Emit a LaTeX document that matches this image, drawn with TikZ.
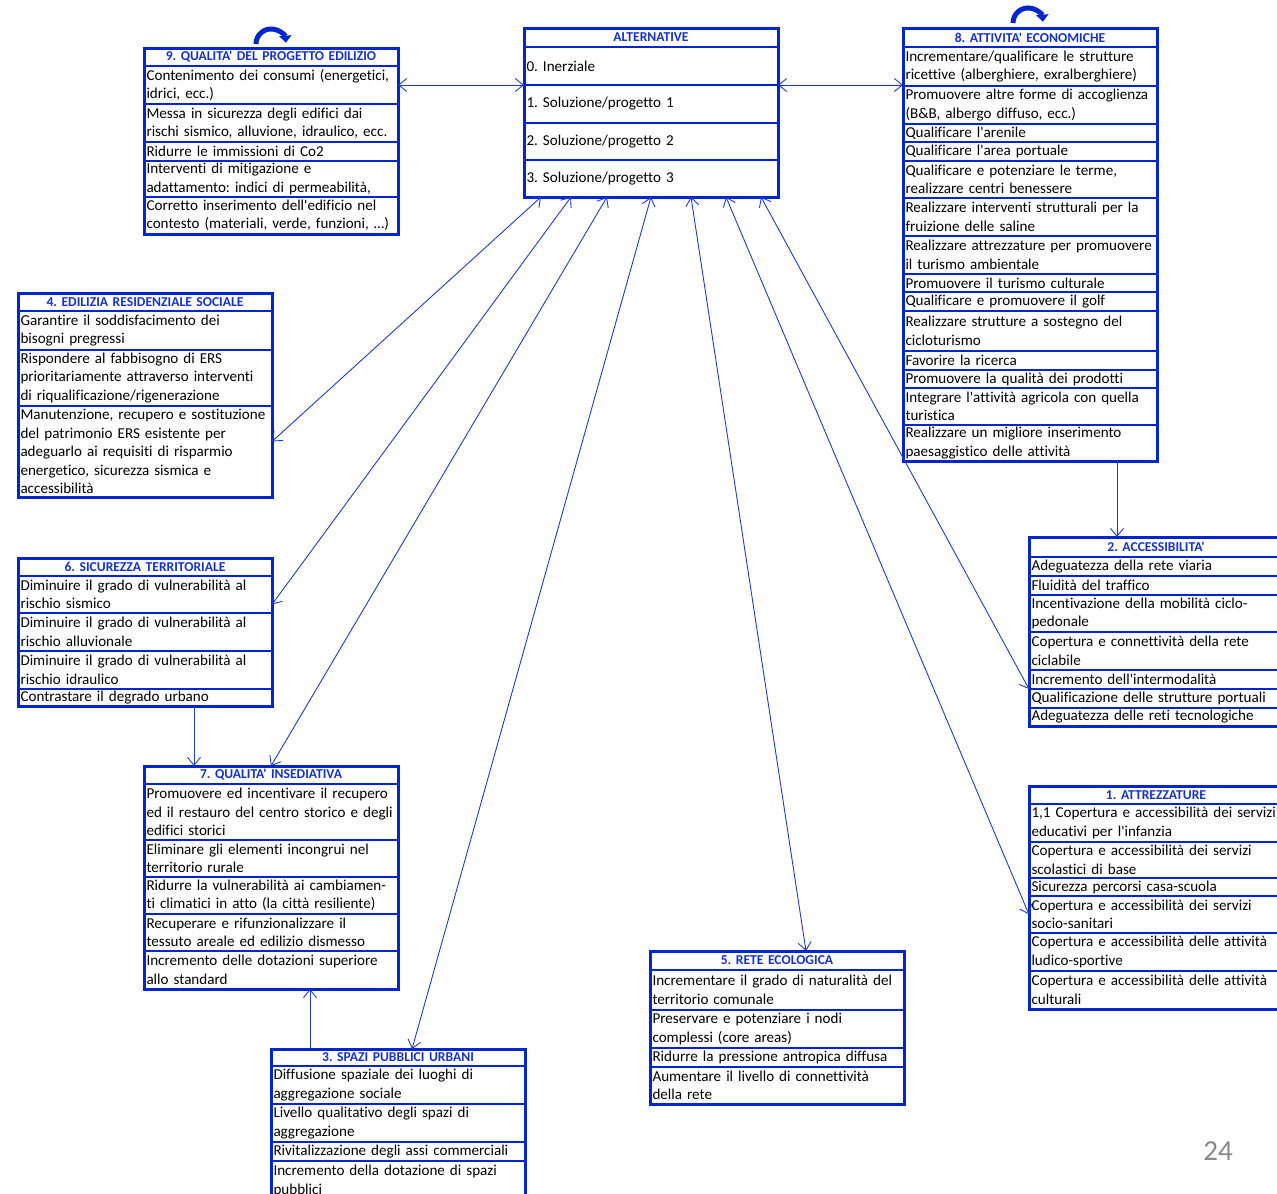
\documentclass[tikz,border=0pt]{standalone}
\usepackage{fontspec}
\setmainfont{Carlito}[Ligatures={TeXOff,NoCommon}]
\usetikzlibrary{arrows.meta}
\definecolor{boxblue}{RGB}{0,38,204}
\definecolor{linkblue}{RGB}{30,60,210}
\definecolor{headblue}{RGB}{20,50,210}
\definecolor{pagegray}{RGB}{137,137,137}
\newcommand{\frm}[4]{\node[framebox, minimum height={(#4-#3)*1pt}] (#1) at (#2,#3) {};}
\newcommand{\hd}[5]{\node[headcell, minimum height={(#4-#3)*1pt}] (#1) at (#2,#3) {#5};}
\newcommand{\rw}[5]{\node[rowcell, minimum height={(#4-#3)*1pt}] (#1) at (#2,#3) {#5};}
\tikzset{
  cell/.style={draw=boxblue, line width=2.6pt, anchor=north west, minimum width=254pt, inner xsep=2.5pt, inner ysep=0pt, outer sep=0pt},
  framebox/.style={cell, line width=3pt},
  headcell/.style={cell, font=\fontsize{13.6}{15}\selectfont\bfseries, text=headblue, align=center, text width=249pt},
  rowcell/.style={cell, font=\fontsize{15.1}{18.5}\selectfont, align=left, text width=249pt},
  link/.style={draw=linkblue, line width=0.9pt, <->},
  feed/.style={draw=linkblue, line width=0.9pt, ->},
  curl/.style={draw=boxblue, line width=5pt, -{Triangle[length=7pt,width=12pt]}},
  pagenum/.style={text=pagegray, font=\fontsize{29}{30}\selectfont},
  >={Straight Barb[length=8pt,width=13pt]}
}
\begin{document}
\frenchspacing
\begin{tikzpicture}[x=1pt, y=-1pt]
\useasboundingbox (0,0) rectangle (1277,1194);
\clip (0,0) rectangle (1277,1194);
% alternative
\frm{alt}{524}{28}{197}
\hd{altt}{524}{28}{47}{ALTERNATIVE}
\rw{alt0}{524}{47}{85}{0. Inerziale}
\rw{alt1}{524}{85}{123}{1. Soluzione/progetto 1}
\rw{alt2}{524}{123}{160}{2. Soluzione/progetto 2}
\rw{alt3}{524}{160}{197}{3. Soluzione/progetto 3}
% 9
\frm{b9}{144}{48}{234}
\hd{b9t}{144}{48}{66}{9. QUALITA' DEL PROGETTO EDILIZIO}
\rw{b9r1}{144}{66}{104}{Contenimento dei consumi (energetici,\\ idrici, ecc.)}
\rw{b9r2}{144}{104}{142}{Messa in sicurezza degli edifici dai\\ rischi sismico, alluvione, idraulico, ecc.}
\rw{b9r3}{144}{142}{161}{Ridurre le immissioni di Co2}
\rw{b9r4}{144}{161}{197}{Interventi di mitigazione e\\ adattamento: indici di permeabilità,}
\rw{b9r5}{144}{197}{234}{Corretto inserimento dell'edificio nel\\ contesto (materiali, verde, funzioni, …)}
% 8
\frm{b8}{903}{28}{461}
\hd{b8t}{903}{28}{47}{8. ATTIVITA' ECONOMICHE}
\rw{b8r1}{903}{47}{86}{Incrementare/qualificare le strutture\\ ricettive (alberghiere, exralberghiere)}
\rw{b8r2}{903}{86}{124}{Promuovere altre forme di accoglienza\\ (B\&B, albergo diffuso, ecc.)}
\rw{b8r3}{903}{124}{142}{Qualificare l'arenile}
\rw{b8r4}{903}{142}{161}{Qualificare l'area portuale}
\rw{b8r5}{903}{161}{198}{Qualificare e potenziare le terme,\\ realizzare centri benessere}
\rw{b8r6}{903}{198}{236}{Realizzare interventi strutturali per la\\ fruizione delle saline}
\rw{b8r7}{903}{236}{274}{Realizzare attrezzature per promuovere\\ il turismo ambientale}
\rw{b8r8}{903}{274}{292}{Promuovere il turismo culturale}
\rw{b8r9}{903}{292}{311}{Qualificare e promuovere il golf}
\rw{b8r10}{903}{311}{351}{Realizzare strutture a sostegno del\\ cicloturismo}
\rw{b8r11}{903}{351}{370}{Favorire la ricerca}
\rw{b8r12}{903}{370}{388}{Promuovere la qualità dei prodotti}
\rw{b8r13}{903}{388}{425}{Integrare l'attività agricola con quella\\ turistica}
\rw{b8r14}{903}{425}{461}{Realizzare un migliore inserimento\\ paesaggistico delle attività}
% 4
\frm{b4}{18}{293}{497}
\hd{b4t}{18}{293}{311}{4. EDILIZIA RESIDENZIALE SOCIALE}
\rw{b4r1}{18}{311}{350}{Garantire il soddisfacimento dei\\ bisogni pregressi}
\rw{b4r2}{18}{350}{406}{Rispondere al fabbisogno di ERS\\ prioritariamente attraverso interventi\\ di riqualificazione/rigenerazione}
\rw{b4r3}{18}{406}{497}{Manutenzione, recupero e sostituzione\\ del patrimonio ERS esistente per\\ adeguarlo ai requisiti di risparmio\\ energetico, sicurezza sismica e\\ accessibilità}
% 6
\frm{b6}{18}{558}{706}
\hd{b6t}{18}{558}{576}{6. SICUREZZA TERRITORIALE}
\rw{b6r1}{18}{576}{613}{Diminuire il grado di vulnerabilità al\\ rischio sismico}
\rw{b6r2}{18}{613}{651}{Diminuire il grado di vulnerabilità al\\ rischio alluvionale}
\rw{b6r3}{18}{651}{689}{Diminuire il grado di vulnerabilità al\\ rischio idraulico}
\rw{b6r4}{18}{689}{706}{Contrastare il degrado urbano}
% 7
\frm{b7}{144}{766}{989}
\hd{b7t}{144}{766}{784}{7. QUALITA' INSEDIATIVA}
\rw{b7r1}{144}{784}{840}{Promuovere ed incentivare il recupero\\ ed il restauro del centro storico e degli\\ edifici storici}
\rw{b7r2}{144}{840}{877}{Eliminare gli elementi incongrui nel\\ territorio rurale}
\rw{b7r3}{144}{877}{914}{Ridurre la vulnerabilità ai cambiamen-\\ ti climatici in atto (la città resiliente)}
\rw{b7r4}{144}{914}{951}{Recuperare e rifunzionalizzare il\\ tessuto areale ed edilizio dismesso}
\rw{b7r5}{144}{951}{989}{Incremento delle dotazioni superiore\\ allo standard}
% 3
\frm{b3}{271}{1049}{1201}
\hd{b3t}{271}{1049}{1066}{3. SPAZI PUBBLICI URBANI}
\rw{b3r1}{271}{1066}{1104}{Diffusione spaziale dei luoghi di\\ aggregazione sociale}
\rw{b3r2}{271}{1104}{1142}{Livello qualitativo degli spazi di\\ aggregazione}
\rw{b3r3}{271}{1142}{1161}{Rivitalizzazione degli assi commerciali}
\rw{b3r4}{271}{1161}{1201}{Incremento della dotazione di spazi\\ pubblici}
% 2
\frm{b2}{1029}{537}{726}
\hd{b2t}{1029}{537}{557}{2. ACCESSIBILITA'}
\rw{b2r1}{1029}{557}{576}{Adeguatezza della rete viaria}
\rw{b2r2}{1029}{576}{595}{Fluidità del traffico}
\rw{b2r3}{1029}{595}{632}{Incentivazione della mobilità ciclo-\\ pedonale}
\rw{b2r4}{1029}{632}{670}{Copertura e connettività della rete\\ ciclabile}
\rw{b2r5}{1029}{670}{689}{Incremento dell'intermodalità}
\rw{b2r6}{1029}{689}{708}{Qualificazione delle strutture portuali}
\rw{b2r7}{1029}{708}{726}{Adeguatezza delle reti tecnologiche}
% 1
\frm{b1}{1029}{786}{1009}
\hd{b1t}{1029}{786}{804}{1. ATTREZZATURE}
\rw{b1r1}{1029}{804}{842}{1,1 Copertura e accessibilità dei servizi\\ educativi per l'infanzia}
\rw{b1r2}{1029}{842}{878}{Copertura e accessibilità dei servizi\\ scolastici di base}
\rw{b1r3}{1029}{878}{896}{Sicurezza percorsi casa-scuola}
\rw{b1r4}{1029}{896}{933}{Copertura e accessibilità dei servizi\\ socio-sanitari}
\rw{b1r5}{1029}{933}{971}{Copertura e accessibilità delle attività\\ ludico-sportive}
\rw{b1r6}{1029}{971}{1009}{Copertura e accessibilità delle attività\\ culturali}
% 5
\frm{b5}{650}{951}{1104}
\hd{b5t}{650}{951}{970}{5. RETE ECOLOGICA}
\rw{b5r1}{650}{970}{1010}{Incrementare il grado di naturalità del\\ territorio comunale}
\rw{b5r2}{650}{1010}{1048}{Preservare e potenziare i nodi\\ complessi (core areas)}
\rw{b5r3}{650}{1048}{1067}{Ridurre la pressione antropica diffusa}
\rw{b5r4}{650}{1067}{1104}{Aumentare il livello di connettività\\ della rete}
% links
\draw[link] (b9r1.east) -- (alt1.north west);
\draw[link] (alt1.north east) -- (alt1.north east -| b8.west);
\draw[link] ([xshift=17pt]alt.south west) -- ([yshift=10pt]b4r3.east);
\draw[link] ([xshift=47pt]alt.south west) -- ([yshift=-10pt]b6r1.east);
\draw[link] ([xshift=83pt]alt.south west) -- (b7.north);
\draw[link] ([xshift=127pt]alt.south west) -- ([xshift=14pt]b3.north);
\draw[link] ([xshift=167pt]alt.south west) -- ([xshift=29pt]b5.north);
\draw[link] ([xshift=202pt]alt.south west) -- (b1r4.west);
\draw[link] ([xshift=237pt]alt.south west) -- (b2r6.north west);
\coordinate (k8) at ([xshift=87pt]b8.south);
\draw[feed] (k8) -- (k8 |- b2.north);
\coordinate (k6) at ([xshift=49pt]b6.south);
\draw[feed] (k6) -- (k6 |- b7.north);
\coordinate (k3) at ([xshift=-88pt]b3.north);
\draw[feed] (k3) -- (k3 |- b7.south);
% curls
\draw[curl] (256,44) arc[start angle=180, end angle=5, radius=15pt];
\draw[curl] (1013,23) arc[start angle=180, end angle=5, radius=15pt];
\node[pagenum] (pg) at (1218,1151) {24};
\end{tikzpicture}
\end{document}
